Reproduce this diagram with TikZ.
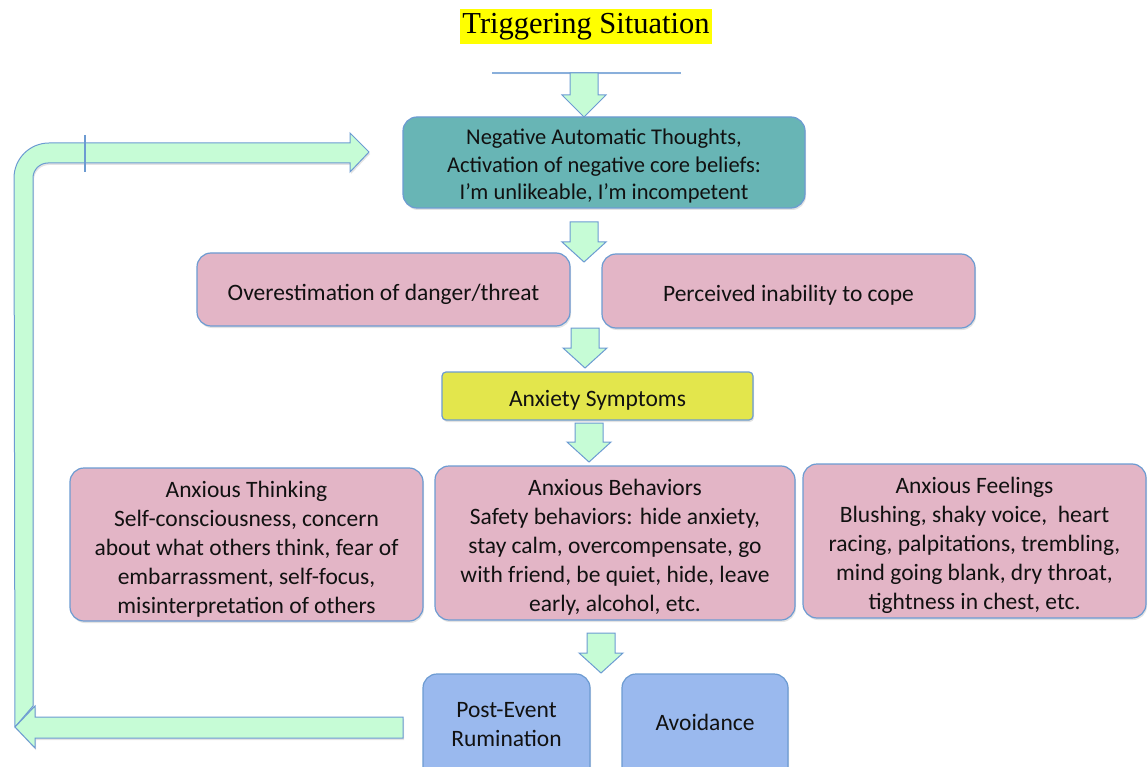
\documentclass[tikz,border=0pt]{standalone}
\usepackage{fontspec}
\setmainfont{Carlito}
\newfontfamily\titlefont{Liberation Serif}
\usetikzlibrary{shadows}
\definecolor{mint}{HTML}{C6FCD6}
\definecolor{bordc}{HTML}{6C9BD2}
\definecolor{tealc}{HTML}{68B5B5}
\definecolor{pinkc}{HTML}{E3B5C6}
\definecolor{yellc}{HTML}{E3E64C}
\definecolor{bluec}{HTML}{9AB9EE}
\definecolor{txtc}{HTML}{111111}
\definecolor{hilite}{HTML}{FFFF00}
\tikzset{
  box/.style={draw=bordc, line width=1.2pt, rounded corners=14pt, inner sep=0pt,
    drop shadow={opacity=0.22, shadow xshift=1pt, shadow yshift=-2pt}},
  tealbox/.style={box, fill=tealc},
  pinkbox/.style={box, fill=pinkc},
  yellbox/.style={box, fill=yellc, rounded corners=4pt},
  bluebox/.style={box, fill=bluec},
  txt/.style={align=center, text=txtc, font=\fontsize{23.5}{29}\selectfont, inner sep=0pt},
  blkarrow/.style={draw=bordc, fill=mint, line width=1pt, line join=miter},
}
\newcommand\blkdown[4]{\draw[blkarrow] (#1-14,#2) -- (#1+14,#2) -- (#1+14,#3) -- (#1+22,#3) -- (#1,#4) -- (#1-22,#3) -- (#1-14,#3) -- cycle;}
\begin{document}
\begin{tikzpicture}[x=1pt,y=-1pt]
\useasboundingbox (0,0) rectangle (1148,767);
% title
\node[fill=hilite, inner xsep=1pt, minimum height=35pt, minimum width=252pt, font=\titlefont\fontsize{30.5}{32}\selectfont] (title) at (586,26.5) {Triggering Situation};
\coordinate (tl) at (492,73);
\coordinate (tr) at (681,73);
\draw[draw=bordc!80, line width=2pt, drop shadow={opacity=0.22, shadow yshift=-2pt}] (tl) -- (tr);
% boxes
\node[tealbox, minimum width=402pt, minimum height=91pt] (nat) at (604,162.5) {};
\node[txt, font=\fontsize{22.5}{27.5}\selectfont] (natt) at ([yshift=-4pt]nat.center)
  {Negative Automatic Thoughts,\\Activation of negative core beliefs:\\I’m unlikeable, I’m incompetent};
\node[pinkbox, minimum width=373pt, minimum height=73pt] (over) at (383.5,289.5) {};
\node[txt] (overt) at ([yshift=-4.5pt]over.center) {Overestimation of danger/threat};
\node[pinkbox, minimum width=373pt, minimum height=74pt] (perc) at (788.5,291) {};
\node[txt] (perct) at ([yshift=-4.5pt]perc.center) {Perceived inability to cope};
\node[yellbox, minimum width=311pt, minimum height=48pt] (anx) at (597.5,396) {};
\node[txt] (anxt) at ([yshift=-4pt]anx.center) {Anxiety Symptoms};
\node[pinkbox, minimum width=353pt, minimum height=153pt] (think) at (246.5,544.5) {};
\node[txt] (thinkt) at ([yshift=-5pt]think.center)
  {Anxious Thinking\\Self-consciousness, concern\\about what others think, fear of\\embarrassment, self-focus,\\misinterpretation of others};
\node[pinkbox, minimum width=360pt, minimum height=154pt] (behav) at (615,543) {};
\node[txt] (behavt) at ([yshift=-4.5pt]behav.center)
  {Anxious Behaviors\\Safety behaviors: hide anxiety,\\stay calm, overcompensate, go\\with friend, be quiet, hide, leave\\early, alcohol, etc.};
\node[pinkbox, minimum width=343pt, minimum height=154pt] (feel) at (974.5,541) {};
\node[txt] (feelt) at ([yshift=-4.5pt]feel.center)
  {Anxious Feelings\\Blushing, shaky voice,\ \ heart\\racing, palpitations, trembling,\\mind going blank, dry throat,\\tightness in chest, etc.};
\node[bluebox, minimum width=167pt, minimum height=120pt] (post) at (506.5,734) {};
\node[txt] (postt) at (506.5,724.5) {Post-Event\\Rumination};
\node[bluebox, minimum width=166pt, minimum height=120pt] (avoid) at (705,734) {};
\node[txt] (avoidt) at (705,722.5) {Avoidance};
% down block arrows
\blkdown{584}{73}{95}{117}
\blkdown{584}{222}{242}{262}
\blkdown{585}{328}{348}{368}
\blkdown{589}{423}{442}{462}
\blkdown{601}{633}{653}{673}
% feedback loop
\coordinate (loopend) at (369,152);
\coordinate (loopstart) at (403,727.5);
\draw[blkarrow, drop shadow={opacity=0.22, shadow xshift=1pt, shadow yshift=-2pt}]
  (15,727) -- (14,178) arc[start angle=180, end angle=270, radius=35] -- (350,143) -- (350,133) -- (loopend)
  -- (350,172) -- (350,163) -- (48,163) arc[start angle=270, end angle=180, radius=15] -- (33,706) -- cycle;
\draw[bordc, line width=1.2pt] (85,135) -- (85,172);
\draw[blkarrow, drop shadow={opacity=0.22, shadow xshift=1pt, shadow yshift=-2pt}]
  (15,727) -- (35,706) -- (35,717) -- (loopstart|-0,717) -- (loopstart|-0,738) -- (35,738) -- (35,748) -- cycle;
\end{tikzpicture}
\end{document}
